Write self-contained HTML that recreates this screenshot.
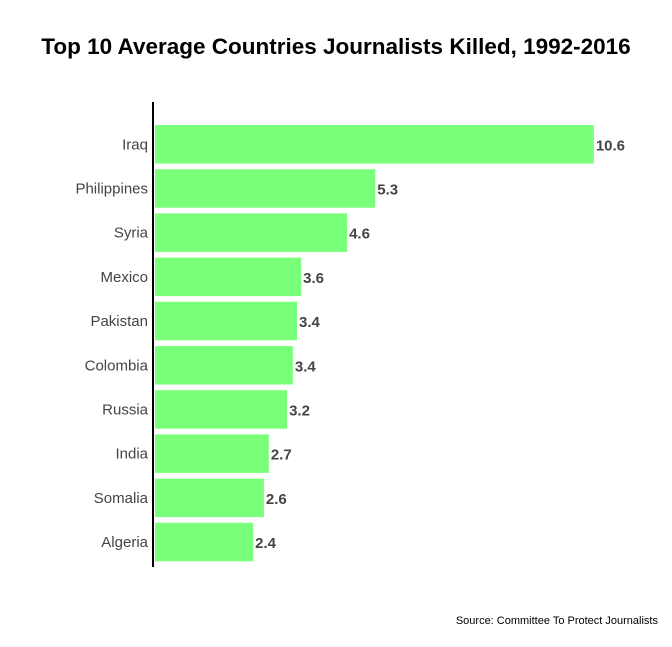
<!DOCTYPE html>
<html><head><meta charset="utf-8"><style>
body{margin:0;background:#fff;width:672px;height:642px;overflow:hidden;font-family:"Liberation Sans",sans-serif}
</style></head><body>
<svg width="672" height="642">
<text x="336" y="54" text-anchor="middle" font-size="22.5" font-weight="bold" fill="#000">Top 10 Average Countries Journalists Killed, 1992-2016</text>
<g id="bars"></g>
<line x1="153" y1="102" x2="153" y2="567" stroke="#000" stroke-width="2"/>
<text x="658" y="624" text-anchor="end" font-size="11" fill="#000">Source: Committee To Protect Journalists</text>
</svg>
<script>
const categories=["Iraq","Philippines","Syria","Mexico","Pakistan","Colombia","Russia","India","Somalia","Algeria"];
const values=[10.6,5.32,4.64,3.53,3.43,3.33,3.19,2.75,2.63,2.37];
const labels=["10.6","5.3","4.6","3.6","3.4","3.4","3.2","2.7","2.6","2.4"];
const x0=155,scale=41.4,top0=125,step=44.2,bh=38.5;
const xs=v=>x0+v*scale, ys=i=>top0+i*step;
const g=document.getElementById('bars');const ns='http://www.w3.org/2000/svg';
categories.forEach((c,i)=>{
const r=document.createElementNS(ns,'rect');
r.setAttribute('x',x0);r.setAttribute('y',ys(i));r.setAttribute('width',xs(values[i])-x0);r.setAttribute('height',bh);r.setAttribute('fill','#79ff79');


g.appendChild(r);
const t=document.createElementNS(ns,'text');
t.setAttribute('x',148);t.setAttribute('y',ys(i)+bh/2+5);t.setAttribute('text-anchor','end');t.setAttribute('font-size','15');t.setAttribute('fill','#444');t.textContent=c;


g.appendChild(t);
const v=document.createElementNS(ns,'text');
v.setAttribute('x',xs(values[i])+2);v.setAttribute('y',ys(i)+bh/2+6);v.setAttribute('font-size','15');v.setAttribute('font-weight','bold');v.setAttribute('fill','#444');v.textContent=labels[i];


g.appendChild(v);
});
</script>
</body></html>
